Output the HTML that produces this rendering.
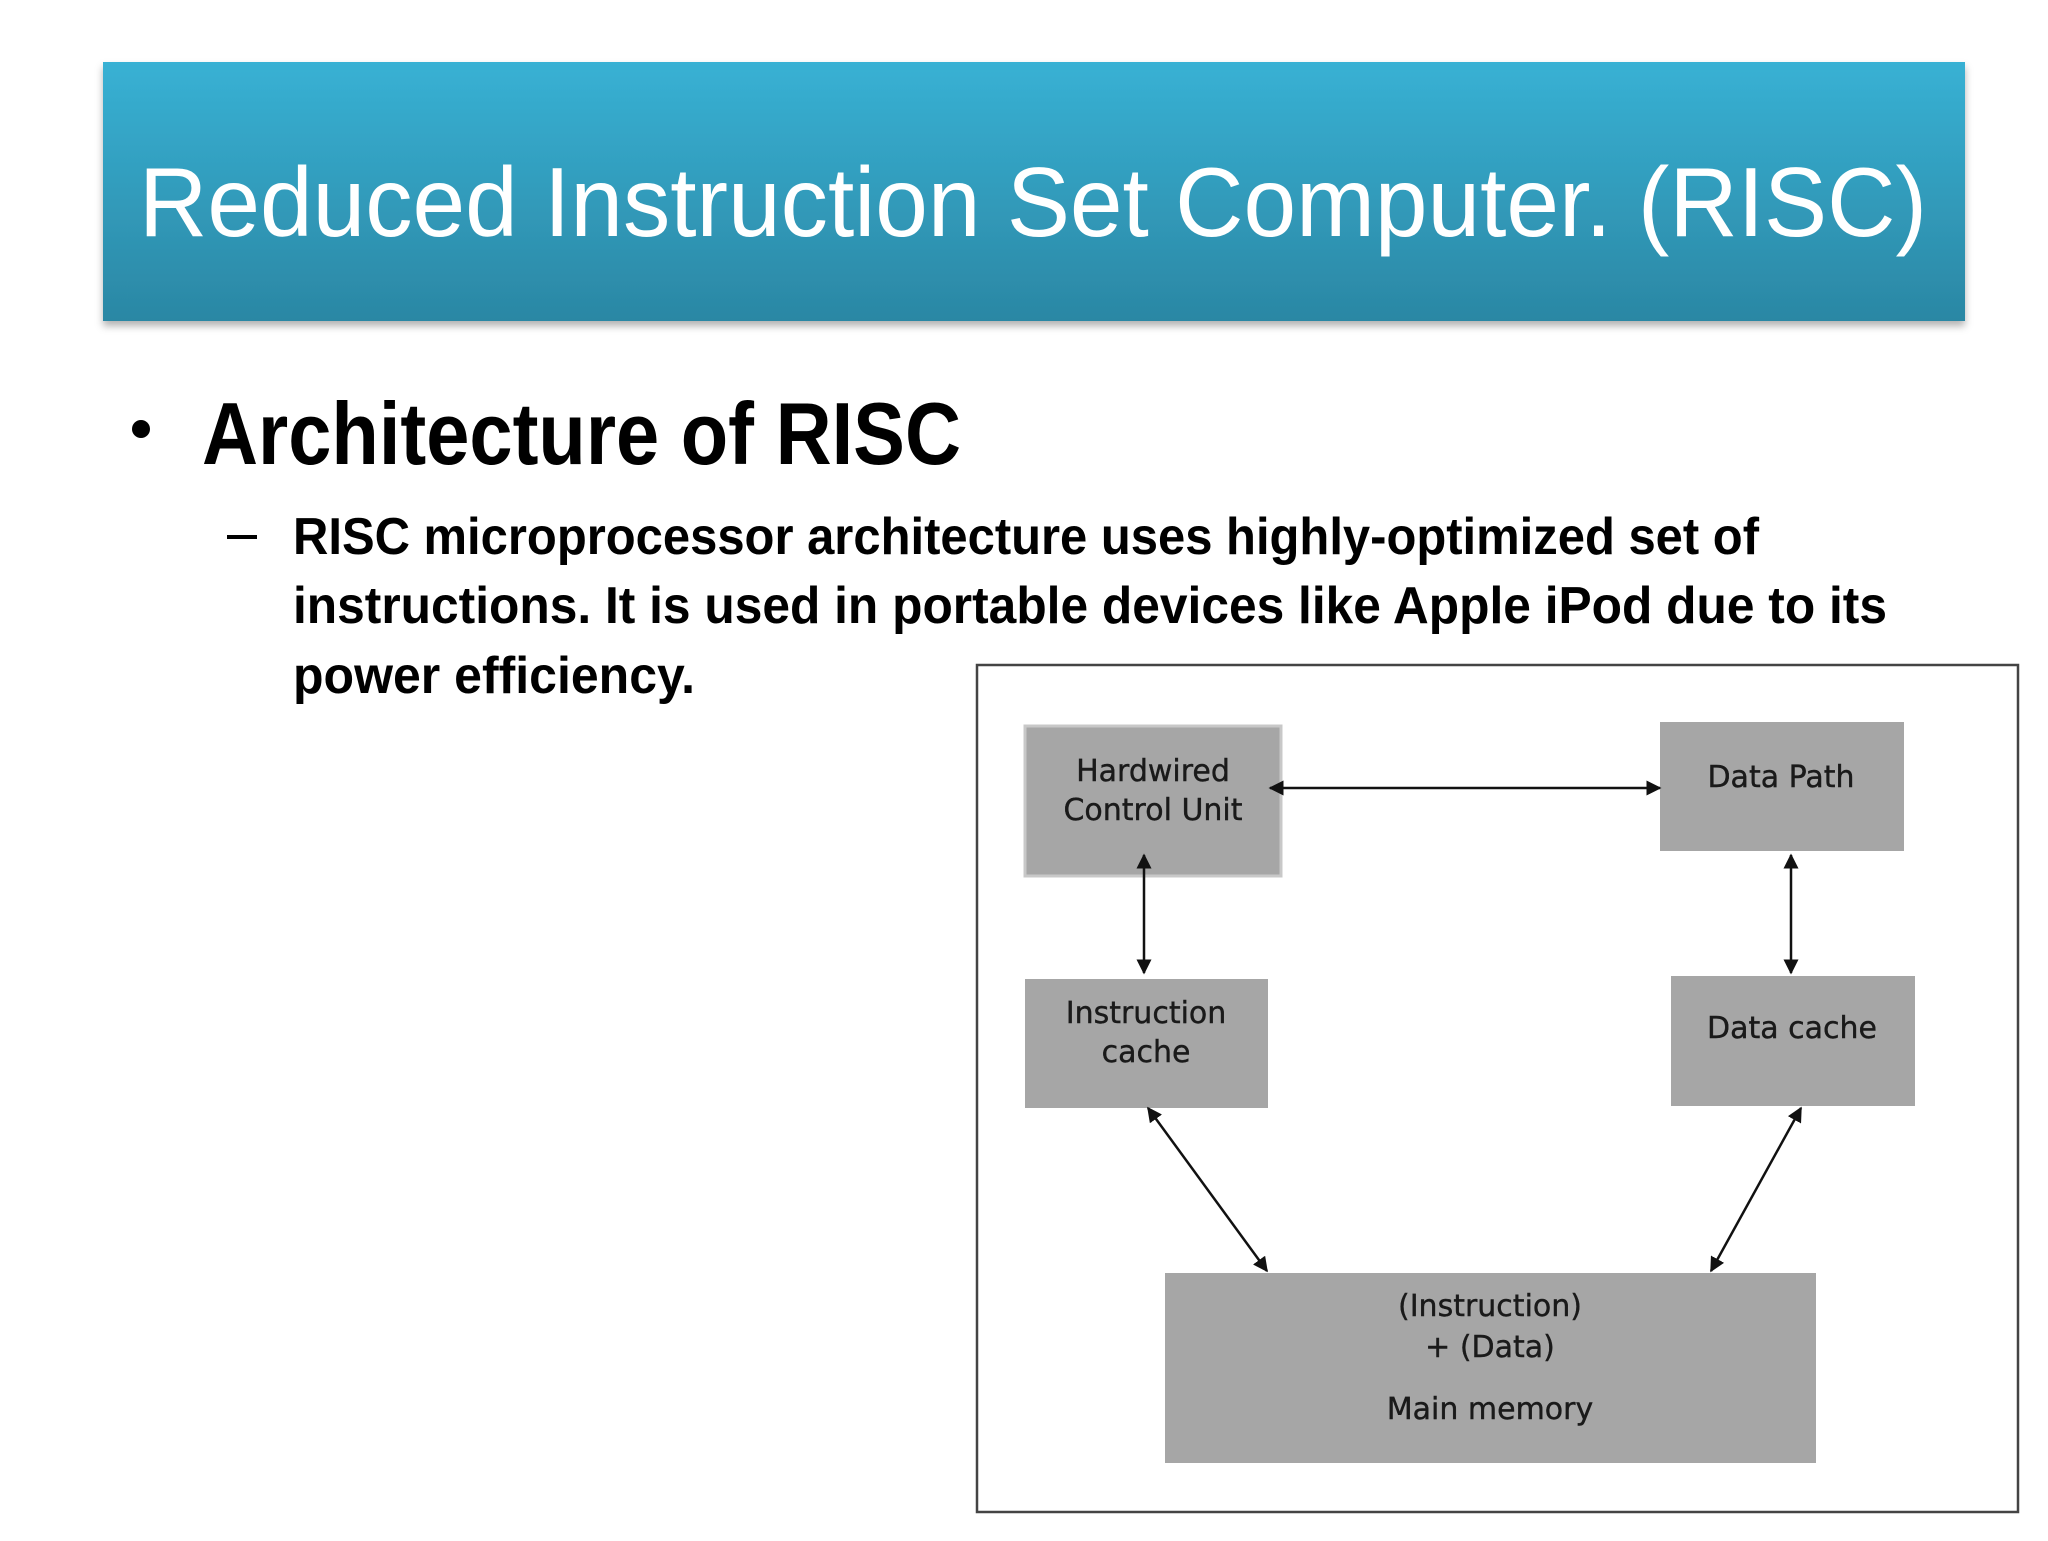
<!DOCTYPE html>
<html><head><meta charset="utf-8"><style>
html,body{margin:0;padding:0;background:#fff;}
body{width:2048px;height:1536px;overflow:hidden;position:relative;}
</style></head><body>
<svg width="2048" height="1536" viewBox="0 0 2048 1536" xmlns="http://www.w3.org/2000/svg">
<defs>
<linearGradient id="g" x1="0" y1="0" x2="0" y2="1">
<stop offset="0" stop-color="#38b1d4"/><stop offset="1" stop-color="#2b87a4"/>
</linearGradient>
<filter id="sh" x="-5%" y="-5%" width="110%" height="120%"><feDropShadow dx="0" dy="5" stdDeviation="4" flood-color="#000" flood-opacity="0.3"/></filter>
<marker id="a" viewBox="0 0 10 10" refX="9" refY="5" markerWidth="6" markerHeight="6" orient="auto-start-reverse"><path d="M0,0 L10,5 L0,10 z" fill="#111"/></marker>
</defs>
<rect x="103" y="62" width="1862" height="259" fill="url(#g)" filter="url(#sh)"/>
<text x="139" y="236" font-family="Liberation Sans, sans-serif" font-size="98" fill="#fff" textLength="1788" lengthAdjust="spacingAndGlyphs">Reduced Instruction Set Computer. (RISC)</text>
<circle cx="141" cy="429" r="9" fill="#000"/>
<text x="202" y="464" font-family="Liberation Sans, sans-serif" font-weight="bold" font-size="88" fill="#000" textLength="759" lengthAdjust="spacingAndGlyphs">Architecture of RISC</text>
<rect x="227" y="535" width="30" height="4" fill="#000"/>
<g font-family="Liberation Sans, sans-serif" font-weight="bold" font-size="52" fill="#000">
<text x="293" y="554" textLength="1466" lengthAdjust="spacingAndGlyphs">RISC microprocessor architecture uses highly-optimized set of</text>
<text x="293" y="623" textLength="1594" lengthAdjust="spacingAndGlyphs">instructions. It is used in portable devices like Apple iPod due to its</text>
<text x="293" y="693" textLength="402" lengthAdjust="spacingAndGlyphs">power efficiency.</text>
</g>
<rect x="977" y="665" width="1041" height="847" fill="#fff" stroke="#444" stroke-width="2.5"/>
<g fill="#a6a6a6">
<rect x="1025" y="726" width="256" height="150" stroke="#c8c8c8" stroke-width="3"/>
<rect x="1660" y="722" width="244" height="129"/>
<rect x="1025" y="979" width="243" height="129"/>
<rect x="1671" y="976" width="244" height="130"/>
<rect x="1165" y="1273" width="651" height="190"/>
</g>
<g font-family="DejaVu Sans, sans-serif" font-size="30" fill="#1a1a1a" text-anchor="middle" stroke="#1a1a1a" stroke-width="0.4">
<text x="1153" y="781">Hardwired</text>
<text x="1153" y="820">Control Unit</text>
<text x="1781" y="787">Data Path</text>
<text x="1146" y="1023">Instruction</text>
<text x="1146" y="1062">cache</text>
<text x="1792" y="1038">Data cache</text>
<text x="1490" y="1316">(Instruction)</text>
<text x="1490" y="1357">+ (Data)</text>
<text x="1490" y="1419">Main memory</text>
</g>
<g stroke="#111" stroke-width="2.5" marker-start="url(#a)" marker-end="url(#a)">
<line x1="1270" y1="788" x2="1660" y2="788"/>
<line x1="1144" y1="855" x2="1144" y2="973"/>
<line x1="1791" y1="855" x2="1791" y2="973"/>
<line x1="1148" y1="1108" x2="1267" y2="1271"/>
<line x1="1801" y1="1108" x2="1711" y2="1271"/>
</g>
</svg>
</body></html>
